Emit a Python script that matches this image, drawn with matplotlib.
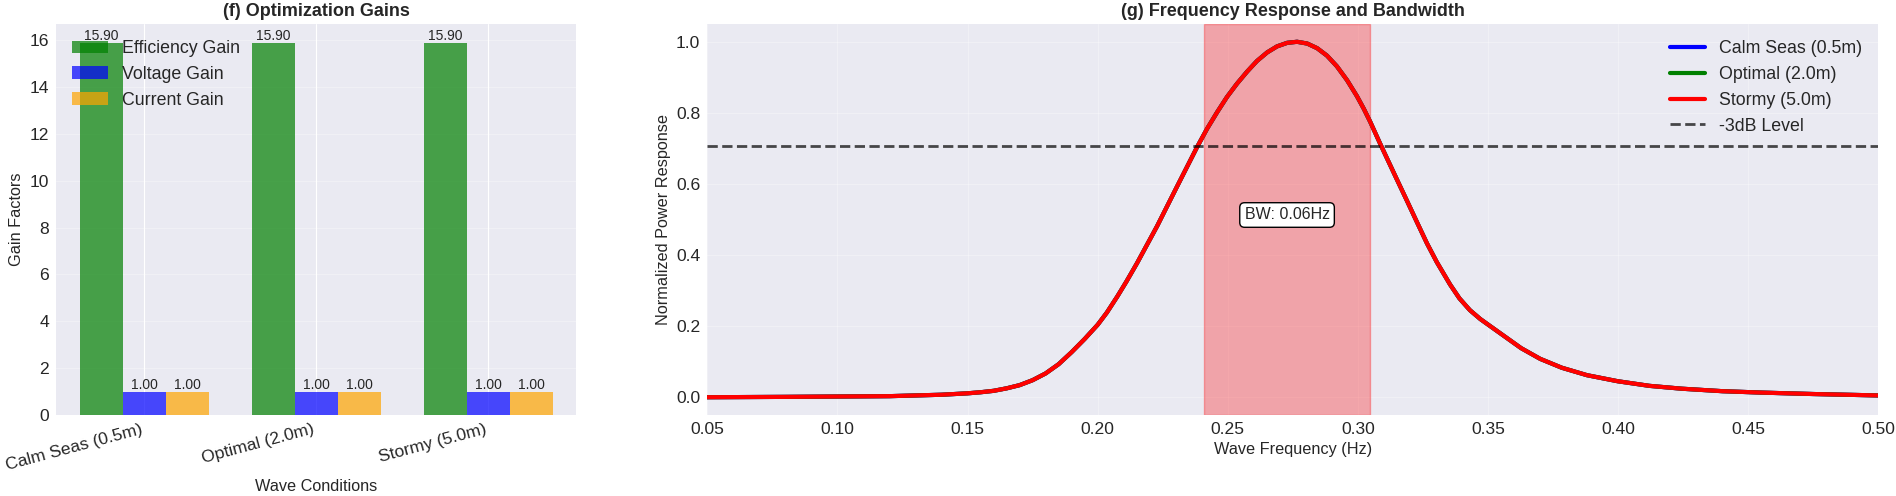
import matplotlib
matplotlib.use('Agg')
import matplotlib.pyplot as plt
import numpy as np

# ---------------- data ----------------
conditions = ['Calm Seas (0.5m)', 'Optimal (2.0m)', 'Stormy (5.0m)']
efficiency_gain = [15.90, 15.90, 15.90]
voltage_gain = [1.00, 1.00, 1.00]
current_gain = [1.00, 1.00, 1.00]

freq = [0.05, 0.08, 0.10, 0.12, 0.13, 0.14, 0.15, 0.155, 0.16, 0.165,
        0.17, 0.175, 0.18, 0.185, 0.19, 0.195, 0.20, 0.2035, 0.2075, 0.2110,
        0.2151, 0.2228, 0.2305, 0.2382, 0.2420, 0.2459, 0.2497, 0.2535, 0.2574, 0.2612,
        0.2651, 0.2689, 0.2728, 0.2766, 0.2805, 0.2843, 0.2881, 0.2919, 0.2958, 0.2996,
        0.3022, 0.3047, 0.3086, 0.3150, 0.3190, 0.3227, 0.3265, 0.3303, 0.3354, 0.3390,
        0.3430, 0.3470, 0.3512, 0.3627, 0.3700, 0.3783, 0.3880, 0.3998, 0.4120, 0.4244,
        0.4400, 0.4552, 0.4750, 0.50]
response = [0.000, 0.001, 0.002, 0.003, 0.005, 0.007, 0.011, 0.014, 0.018, 0.025,
            0.034, 0.048, 0.067, 0.093, 0.127, 0.164, 0.204, 0.238, 0.283, 0.325,
            0.377, 0.481, 0.593, 0.704, 0.755, 0.802, 0.845, 0.882, 0.916, 0.946,
            0.970, 0.987, 0.997, 1.000, 0.995, 0.982, 0.961, 0.931, 0.892, 0.847,
            0.812, 0.775, 0.712, 0.612, 0.550, 0.492, 0.433, 0.380, 0.317, 0.278,
            0.245, 0.220, 0.198, 0.138, 0.108, 0.083, 0.062, 0.045, 0.032, 0.024,
            0.017, 0.013, 0.009, 0.005]
calm_response = list(response)
optimal_response = list(response)
stormy_response = list(response)
series_labels = ['Calm Seas (0.5m)', 'Optimal (2.0m)', 'Stormy (5.0m)']
half_power_level = 0.707
bw_low, bw_high = 0.2408, 0.3047

# ---------------- style ----------------
plt.style.use('seaborn-v0_8-darkgrid')
plt.rcParams['font.family'] = ['Liberation Sans', 'DejaVu Sans']
plt.rcParams.update({
    'axes.facecolor': '#EAEAF2',
    'grid.color': 'white',
    'text.color': '0.15',
    'axes.labelcolor': '0.15',
    'xtick.color': '0.15',
    'ytick.color': '0.15',
    'xtick.major.size': 0,
    'ytick.major.size': 0,
    'xtick.major.pad': 5,
    'ytick.major.pad': 5,
    'legend.frameon': False,
})

fig = plt.figure(figsize=(18.96, 4.96), dpi=100)
ax1 = fig.add_axes([0.02954, 0.16331, 0.30406 - 0.02954, 0.95161 - 0.16331])
ax2 = fig.add_axes([0.37305, 0.16331, 0.99077 - 0.37305, 0.95161 - 0.16331])

TICK = 12.6
LABEL = 11.7
TITLE = 13
LEG = 12.8

# ---------------- (f) bars ----------------
x = np.arange(len(conditions))
w = 0.25
b1 = ax1.bar(x - w, efficiency_gain, w, label='Efficiency Gain', color='green', alpha=0.7)
b2 = ax1.bar(x, voltage_gain, w, label='Voltage Gain', color='blue', alpha=0.7)
b3 = ax1.bar(x + w, current_gain, w, label='Current Gain', color='orange', alpha=0.7)
for bars in (b1, b2, b3):
    for r in bars:
        h = r.get_height()
        ax1.text(r.get_x() + r.get_width() / 2, h, f'{h:.2f}', ha='center', va='bottom', fontsize=10)
ax1.set_xticks(x)
ax1.set_xticklabels(conditions, rotation=15, ha='right')
ax1.set_xlabel('Wave Conditions', fontsize=LABEL)
ax1.set_ylabel('Gain Factors', fontsize=LABEL)
ax1.set_title('(f) Optimization Gains', fontsize=TITLE, fontweight='bold')
ax1.tick_params(labelsize=TICK)
ax1.legend(loc='upper left', fontsize=LEG)
ax1.grid(True, alpha=0.3, axis='y')

# ---------------- (g) frequency response ----------------
colors = ['blue', 'green', 'red']
for vals, lab, c in zip([calm_response, optimal_response, stormy_response], series_labels, colors):
    ax2.plot(freq, vals, color=c, linewidth=3, label=lab)
ax2.axhline(half_power_level, color='black', linestyle='--', alpha=0.7, linewidth=2, label='-3dB Level')
ax2.axvspan(bw_low, bw_high, color='red', alpha=0.3)
ax2.text((bw_low + bw_high) / 2, 0.5, f'BW: {bw_high - bw_low:.2f}Hz', ha='center', fontsize=11.5,
         bbox=dict(boxstyle='round', facecolor='white', edgecolor='black'))
ax2.set_xlim(0.05, 0.5)
ax2.set_xlabel('Wave Frequency (Hz)', fontsize=LABEL)
ax2.set_ylabel('Normalized Power Response', fontsize=LABEL)
ax2.set_title('(g) Frequency Response and Bandwidth', fontsize=TITLE, fontweight='bold')
ax2.tick_params(labelsize=TICK)
ax2.legend(loc='upper right', fontsize=LEG)
ax2.grid(True, alpha=0.3)

fig.savefig('out.png', dpi=100)
